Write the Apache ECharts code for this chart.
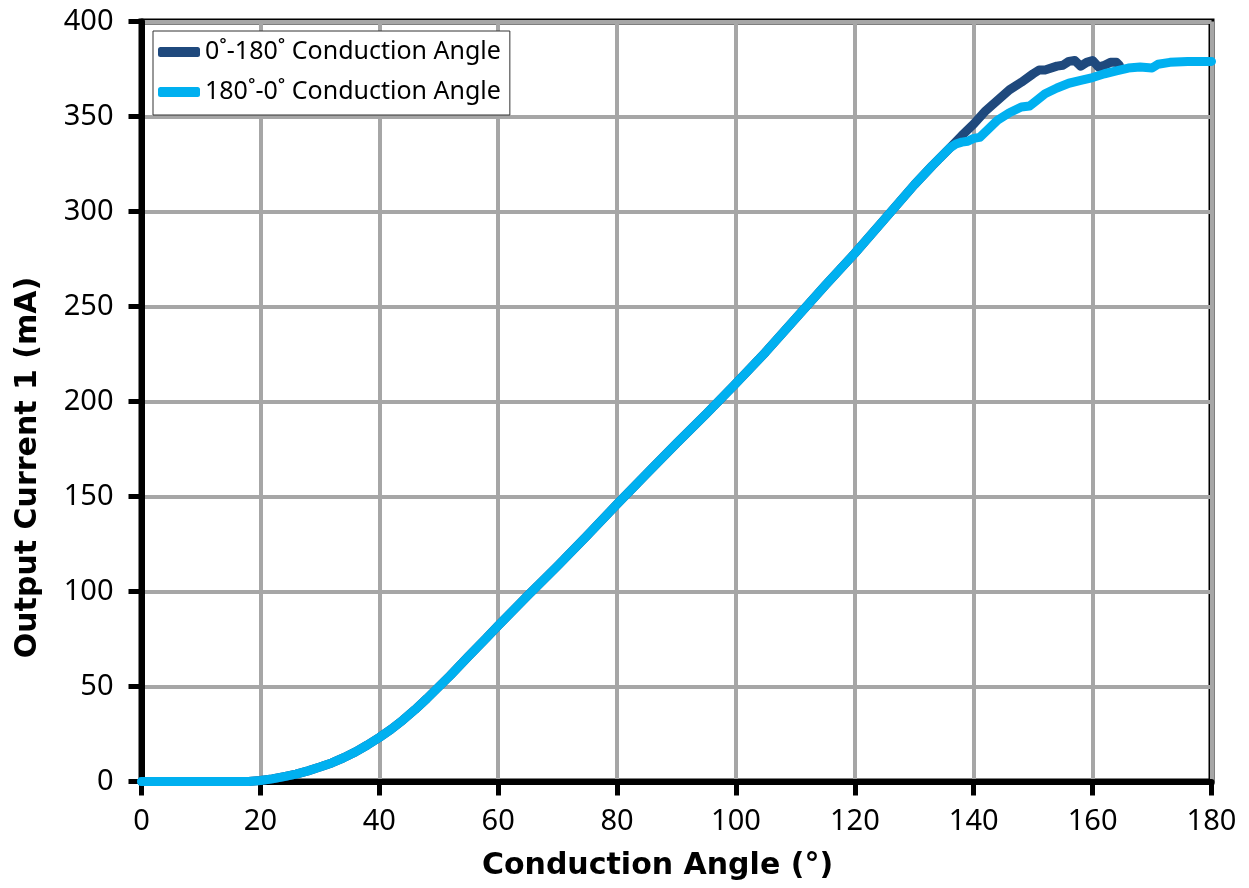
<!DOCTYPE html>
<html>
<head>
<meta charset="utf-8">
<script src="https://cdn.jsdelivr.net/npm/echarts@6/dist/echarts.min.js"></script>
<style>
html,body{margin:0;padding:0;background:#fff;}
#chart{width:1249px;height:888px;}
</style>
</head>
<body>
<div id="chart"></div>
<script>
// Conduction angle (degrees) and output current (mA)
const seriesNames = ['0˚-180˚ Conduction Angle', '180˚-0˚ Conduction Angle'];
const commonX = [0, 10, 18, 20, 22, 24, 26, 28, 30, 32, 34, 36, 38, 40, 42, 44, 46, 48, 50, 52, 55, 58, 60, 65, 70, 75, 80, 85, 90, 95, 100, 105, 110, 115, 120, 125, 130, 133, 136];
const commonY = [0, 0, 0, 0.5, 1.4, 2.6, 3.9, 5.6, 7.6, 9.8, 12.5, 15.6, 19.2, 23.2, 27.5, 32.4, 37.8, 43.6, 49.8, 56, 65.8, 75.5, 82, 98, 113.5, 129.5, 146, 162, 178, 193.5, 209.5, 226, 243.5, 261, 278, 296, 314, 324, 333.5];
const darkTailX = [138, 140, 142, 144, 146, 148, 150, 151, 152, 154, 155, 156, 157, 158, 159, 160, 161, 162, 163, 164, 164.5];
const darkTailY = [340, 346, 353, 358.5, 364, 368, 372.5, 374.5, 374.5, 376.5, 377, 379, 379.5, 376.5, 378.5, 379.5, 376, 377, 378.5, 378.5, 377];
const lightTailX = [137, 138, 139, 140, 141, 142, 143, 144, 146, 148, 149.4, 150, 152, 154, 156, 158, 160, 162, 164, 166, 168, 170, 171, 173, 176, 180];
const lightTailY = [335.5, 336.5, 337, 338.5, 339, 342, 345, 348, 352, 355, 355.5, 357, 362, 365, 367.5, 369, 370.5, 372.5, 374, 375.5, 376, 375.5, 377.5, 378.5, 379, 379];
const xTicks = {min: 0, max: 180, step: 20};
const yTicks = {min: 0, max: 400, step: 50};

function pairs(xs, ys) { return xs.map((x, i) => [x, ys[i]]); }
const darkData = pairs(commonX.concat(darkTailX), commonY.concat(darkTailY));
const lightData = pairs(commonX.concat(lightTailX), commonY.concat(lightTailY));

const chart = echarts.init(document.getElementById('chart'), null, {renderer: 'canvas'});
const tickFont = {color: '#000', fontFamily: 'Noto Sans', fontSize: 29};
chart.setOption({
  animation: false,
  backgroundColor: '#fff',
  grid: {left: 141.5, right: 37.5, top: 21.5, bottom: 106.5, show: true, borderColor: '#000', borderWidth: 6, backgroundColor: 'transparent'},
  legend: {
    orient: 'vertical', left: 153, top: 31,
    padding: [7, 9, 9, 5],
    backgroundColor: '#fff', borderColor: '#333', borderWidth: 1, borderRadius: 0,
    itemWidth: 42, itemHeight: 10, itemGap: 12,
    icon: 'roundRect',
    textStyle: {color: '#000', fontFamily: 'Noto Sans', fontSize: 25, lineHeight: 28},
    data: seriesNames
  },
  xAxis: {
    type: 'value', min: xTicks.min, max: xTicks.max, interval: xTicks.step,
    name: 'Conduction Angle (°)', nameLocation: 'middle', nameGap: 70,
    nameTextStyle: {color: '#000', fontFamily: 'DejaVu Sans', fontWeight: 'bold', fontSize: 30, padding: [0, 38, 0, 0]},
    axisLine: {show: true, lineStyle: {color: '#000', width: 6}},
    axisTick: {show: true, inside: false, length: 14, lineStyle: {color: '#000', width: 5}},
    axisLabel: Object.assign({margin: 26}, tickFont),
    splitLine: {show: true, lineStyle: {color: '#A6A6A6', width: 4}}
  },
  yAxis: {
    type: 'value', min: yTicks.min, max: yTicks.max, interval: yTicks.step,
    name: 'Output Current 1 (mA)', nameLocation: 'middle', nameGap: 98,
    nameTextStyle: {color: '#000', fontFamily: 'DejaVu Sans', fontWeight: 'bold', fontSize: 30, padding: [0, 132, 0, 0]},
    axisLine: {show: true, lineStyle: {color: '#000', width: 6}},
    axisTick: {show: true, inside: false, length: 13, lineStyle: {color: '#000', width: 5}},
    axisLabel: Object.assign({margin: 28}, tickFont),
    splitLine: {show: true, lineStyle: {color: '#A6A6A6', width: 4}}
  },
  series: [
    {name: seriesNames[0], type: 'line', data: darkData, showSymbol: false, symbol: 'none',
     lineStyle: {color: '#1F497D', width: 9, join: 'round', cap: 'round'}, itemStyle: {color: '#1F497D'}, z: 3},
    {name: seriesNames[1], type: 'line', data: lightData, showSymbol: false, symbol: 'none',
     lineStyle: {color: '#00B0F0', width: 9, join: 'round', cap: 'round'}, itemStyle: {color: '#00B0F0'}, z: 4}
  ]
});
</script>
</body>
</html>
